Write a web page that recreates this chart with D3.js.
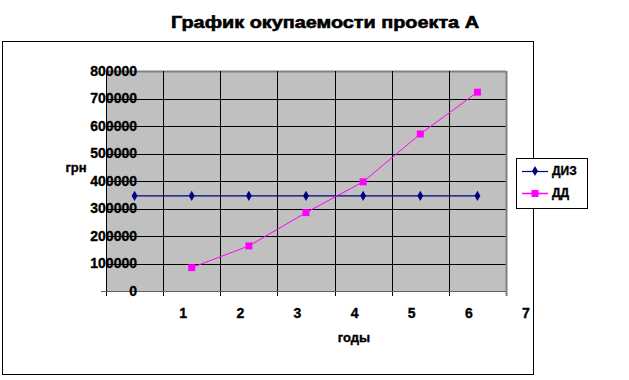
<!DOCTYPE html>
<html>
<head>
<meta charset="utf-8">
<script src="https://cdn.jsdelivr.net/npm/d3@7"></script>
<style>
  body { margin: 0; background: #fff; }
  text { font-family: "Liberation Sans", Arial, sans-serif; font-weight: bold; stroke: #000; stroke-width: 0.35px; }
</style>
</head>
<body>
<div id="payback_chart"></div>
<script>
// chart data
const years = ["0", "1", "2", "3", "4", "5", "6"];
const tickLabels = ["1", "2", "3", "4", "5", "6", "7"];
const diz = [346000, 346000, 346000, 346000, 346000, 346000, 346000];
const dd = [null, 85000, 164000, 285000, 397000, 571000, 723000];
const yTicks = [0, 100000, 200000, 300000, 400000, 500000, 600000, 700000, 800000];

const width = 629, height = 380;
var margin = { top: 71, right: 123, bottom: 89, left: 106 };

var svg = d3
  .select("#payback_chart")
  .append("svg")
  .attr("width", width)
  .attr("height", height);

// chart area border
svg.append("rect")
  .attr("x", 2.5).attr("y", 41.5)
  .attr("width", 531).attr("height", 333)
  .attr("fill", "#fff")
  .attr("stroke", "#000");

// title
svg.append("text")
  .attr("x", 325).attr("y", 28)
  .attr("text-anchor", "middle")
  .attr("textLength", 308)
  .attr("lengthAdjust", "spacingAndGlyphs")
  .style("font-size", "17px")
  .style("stroke-width", "0.6px")
  .text("График окупаемости проекта А");

var x = d3.scaleBand()
  .domain(years)
  .range([margin.left, width - margin.right]);

var y = d3.scaleLinear()
  .domain([0, 800000])
  .range([height - margin.bottom, margin.top]);

// plot area
svg.append("rect")
  .attr("x", x.range()[0]).attr("y", y(800000))
  .attr("width", x.range()[1] - x.range()[0])
  .attr("height", y(0) - y(800000))
  .attr("fill", "#c0c0c0");

// horizontal grid
svg.append("g")
  .selectAll("line")
  .data(yTicks)
  .join("line")
  .attr("x1", x.range()[0]).attr("x2", x.range()[1])
  .attr("y1", (d) => Math.round(y(d)) + 0.5)
  .attr("y2", (d) => Math.round(y(d)) + 0.5)
  .attr("stroke", (d) => (d === 0 || d === 800000 ? "#808080" : "#000"))
  .attr("stroke-width", (d) => (d === 800000 ? 2 : 1));

// vertical grid + bottom ticks
const bounds = years.map((d) => x(d)).concat([x.range()[1]]);
svg.append("g")
  .selectAll("line")
  .data(bounds)
  .join("line")
  .attr("x1", (d) => Math.round(d) + 0.5)
  .attr("x2", (d) => Math.round(d) + 0.5)
  .attr("y1", y(800000))
  .attr("y2", y(0) + 5)
  .attr("stroke", (d, i) => (i === bounds.length - 1 ? "#808080" : "#000"))
  .attr("stroke-width", (d, i) => (i === bounds.length - 1 ? 2 : 1));

// x axis line
svg.append("line")
  .attr("x1", x.range()[0] - 5).attr("x2", x.range()[1])
  .attr("y1", Math.round(y(0)) + 0.5).attr("y2", Math.round(y(0)) + 0.5)
  .attr("stroke", "#606060");

// y tick labels (overlap plot like the original)
svg.append("g")
  .selectAll("text")
  .data(yTicks)
  .join("text")
  .attr("x", 137)
  .attr("y", (d) => y(d))
  .attr("dy", "0.35em")
  .attr("text-anchor", "end")
  .style("font-size", "14px")
  .text((d) => d);

// x tick labels
svg.append("g")
  .selectAll("text")
  .data(tickLabels)
  .join("text")
  .attr("x", (d, i) => x(years[i]) + x.bandwidth() + 20)
  .attr("y", y(0) + 27)
  .attr("text-anchor", "middle")
  .style("font-size", "14px")
  .text((d) => d);

// axis titles
svg.append("text")
  .attr("x", 76).attr("y", 172)
  .attr("text-anchor", "middle")
  .style("font-size", "13px")
  .text("грн");

svg.append("text")
  .attr("x", 354).attr("y", 342)
  .attr("text-anchor", "middle")
  .style("font-size", "13px")
  .text("годы");

// series
const cx = (d, i) => x(years[i]) + x.bandwidth() / 2;

svg.append("path")
  .datum(diz)
  .attr("fill", "none")
  .attr("stroke", "#000080")
  .attr("stroke-width", 1.2)
  .attr("d", d3.line().x(cx).y((d) => y(d)));

svg.append("g")
  .selectAll("path")
  .data(diz)
  .join("path")
  .attr("transform", (d, i) => "translate(" + cx(d, i) + "," + y(d) + ")")
  .attr("d", d3.symbol(d3.symbolDiamond, 30))
  .attr("fill", "#000080");

svg.append("path")
  .datum(dd)
  .attr("fill", "none")
  .attr("stroke", "#ff00ff")
  .attr("stroke-width", 1)
  .attr("d", d3.line().defined((d) => d !== null).x(cx).y((d) => y(d)));

svg.append("g")
  .selectAll("rect")
  .data(dd.map((d, i) => ({ v: d, i: i })).filter((d) => d.v !== null))
  .join("rect")
  .attr("x", (d) => cx(d.v, d.i) - 3.5)
  .attr("y", (d) => y(d.v) - 3.5)
  .attr("width", 7).attr("height", 7)
  .attr("fill", "#ff00ff");

// legend
const legend = svg.append("g");
legend.append("rect")
  .attr("x", 516.5).attr("y", 158.5)
  .attr("width", 71).attr("height", 50)
  .attr("fill", "#fff")
  .attr("stroke", "#000");

const legendItems = [
  { name: "ДИЗ", color: "#000080", y: 171, marker: "diamond" },
  { name: "ДД", color: "#ff00ff", y: 193, marker: "square" },
];
legendItems.forEach((it) => {
  legend.append("line")
    .attr("x1", 522).attr("x2", 548)
    .attr("y1", it.y + 0.5).attr("y2", it.y + 0.5)
    .attr("stroke", it.color)
    .attr("stroke-width", it.marker === "square" ? 1.5 : 1.2);
  if (it.marker === "diamond") {
    legend.append("path")
      .attr("transform", "translate(535," + it.y + ")")
      .attr("d", d3.symbol(d3.symbolDiamond, 30))
      .attr("fill", it.color);
  } else {
    legend.append("rect")
      .attr("x", 531.5).attr("y", it.y - 3)
      .attr("width", 7).attr("height", 7)
      .attr("fill", it.color);
  }
  legend.append("text")
    .attr("x", 552).attr("y", it.y)
    .attr("dy", "0.35em")
    .style("font-size", "12px")
    .text(it.name);
});
</script>
</body>
</html>
